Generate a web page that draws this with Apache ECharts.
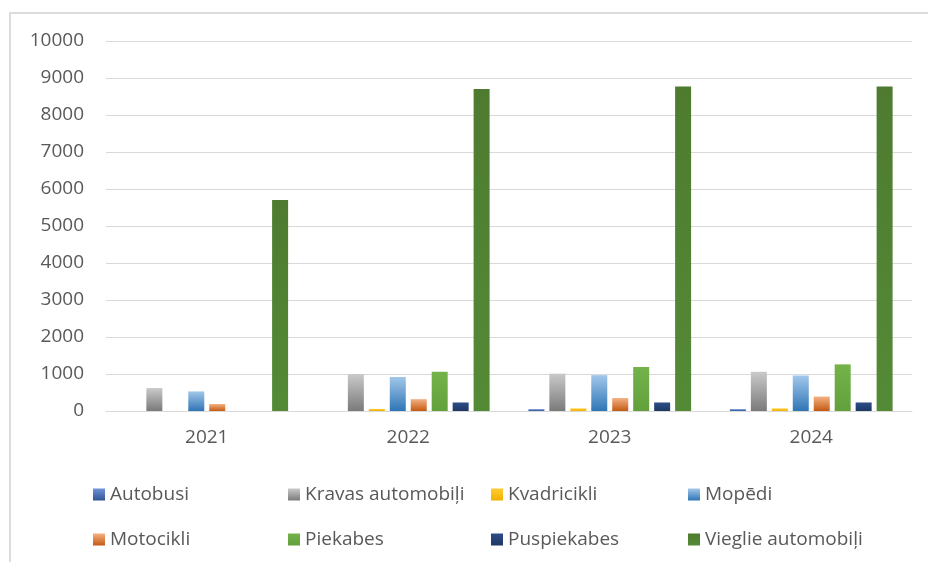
<!DOCTYPE html>
<html>
<head>
<meta charset="utf-8">
<script src="https://cdn.jsdelivr.net/npm/echarts@6/dist/echarts.min.js"></script>
<style>
    html, body { margin: 0; padding: 0; background: #fff; }
    #frame { position: absolute; left: 9px; top: 12px; width: 940px; height: 600px;
             border-left: 2px solid #dcdcdc; border-top: 2px solid #dcdcdc; }
    #chart { position: absolute; left: 0; top: 0; width: 928px; height: 562px; }
</style>
</head>
<body>
<div id="frame"></div>
<div id="chart"></div>
<script>
var years = ['2021', '2022', '2023', '2024'];
var yTicks = [0, 1000, 2000, 3000, 4000, 5000, 6000, 7000, 8000, 9000, 10000];

var autobusi = [0, 0, 50, 50];
var kravas = [620, 1000, 1010, 1060];
var kvadricikli = [0, 55, 70, 70];
var mopedi = [530, 920, 970, 960];
var motocikli = [190, 320, 350, 390];
var piekabes = [0, 1060, 1190, 1260];
var puspiekabes = [0, 230, 230, 230];
var vieglie = [5700, 8700, 8770, 8770];

var seriesDefs = [
    { name: 'Autobusi', data: autobusi, c: ['#6f94d8', '#2f5597'] },
    { name: 'Kravas automobiļi', data: kravas, c: ['#cacaca', '#7a7a7a'] },
    { name: 'Kvadricikli', data: kvadricikli, c: ['#ffcc33', '#f0b000'] },
    { name: 'Mopēdi', data: mopedi, c: ['#a2c7ea', '#2e75b6'] },
    { name: 'Motocikli', data: motocikli, c: ['#f4b183', '#c55a11'] },
    { name: 'Piekabes', data: piekabes, c: ['#74b34a', '#62a03d'] },
    { name: 'Puspiekabes', data: puspiekabes, c: ['#2b4d88', '#1f3864'] },
    { name: 'Vieglie automobiļi', data: vieglie, c: ['#4e7b30', '#548a36'] }
];

// legend cells: 4 columns x 2 rows
var legendLeft = [88, 283, 486, 683];
var legendTop = [480, 525];

var fontFamily = '"Open Sans", "Noto Sans", sans-serif';

var chart = echarts.init(document.getElementById('chart'));

var legends = [];
var series = [];
seriesDefs.forEach(function (s, i) {
    legends.push({
        data: [s.name],
        left: legendLeft[i % 4],
        top: legendTop[Math.floor(i / 4)],
        itemWidth: 12,
        itemHeight: 12,
        itemGap: 0,
        icon: 'rect',
        textStyle: { color: '#595959', fontSize: 19, fontFamily: fontFamily, padding: [0, 0, 0, 0] },
        selectedMode: false
    });
    series.push({
        name: s.name,
        type: 'bar',
        data: s.data,
        barWidth: 16,
        barGap: '31%',
        itemStyle: {
            color: new echarts.graphic.LinearGradient(0, 0, 0, 1, [
                { offset: 0, color: s.c[0] },
                { offset: 1, color: s.c[1] }
            ])
        },
        emphasis: { disabled: true }
    });
});

var option = {
    animation: false,
    grid: { left: 106, right: 16, top: 41, bottom: 151, containLabel: false },
    legend: legends,
    xAxis: {
        type: 'category',
        data: years,
        axisLine: { lineStyle: { color: '#d9d9d9', width: 1 } },
        axisTick: { show: false },
        axisLabel: { color: '#595959', fontSize: 19, fontFamily: fontFamily, margin: 17 }
    },
    yAxis: {
        type: 'value',
        min: yTicks[0],
        max: yTicks[yTicks.length - 1],
        interval: 1000,
        axisLine: { show: false },
        axisTick: { show: false },
        splitLine: { lineStyle: { color: '#d9d9d9', width: 1 } },
        axisLabel: {
            color: '#595959', fontSize: 19, fontFamily: fontFamily, margin: 22,
            formatter: function (v) { return String(v); }
        }
    },
    series: series
};
chart.setOption(option);
</script>
</body>
</html>
